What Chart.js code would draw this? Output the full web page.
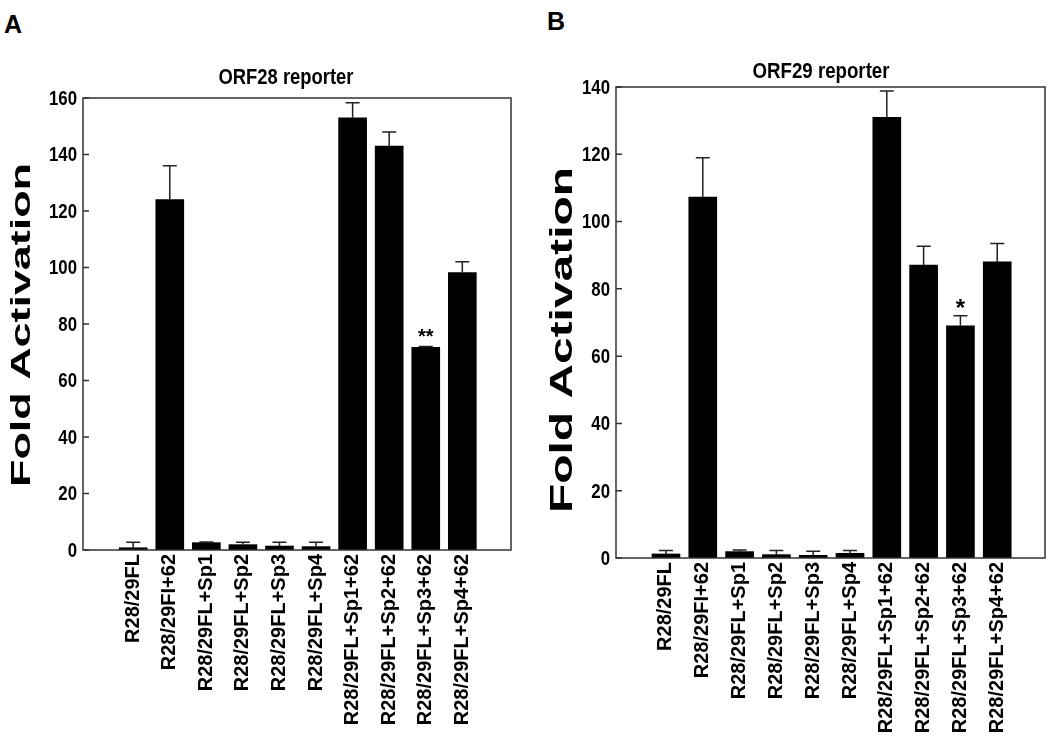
<!DOCTYPE html>
<html>
<head>
<meta charset="utf-8">
<script src="https://cdn.jsdelivr.net/npm/chart.js@4"></script>
<style>
    html, body { margin: 0; padding: 0; background: #fff; }
    body { width: 1050px; height: 738px; position: relative; overflow: hidden; font-family: 'Liberation Sans', Arial, sans-serif; }
    .panel { position: absolute; top: 0; width: 525px; height: 738px; }
    .tag { position: absolute; font-weight: bold; font-size: 25px; line-height: 1; color: #000; }
</style>
</head>
<body>
<div class="tag" style="left:4px; top:12px;">A</div>
<div class="tag" style="left:547px; top:9px;">B</div>
<div class="panel" style="left:0;"><canvas id="chartA" width="525" height="738"></canvas></div>
<div class="panel" style="left:525px;"><canvas id="chartB" width="525" height="738"></canvas></div>

<script>
// Kategoriler (iki panelde ayni)
const categories = [
    'R28/29FL', 'R28/29FI+62', 'R28/29FL+Sp1', 'R28/29FL+Sp2', 'R28/29FL+Sp3',
    'R28/29FL+Sp4', 'R28/29FL+Sp1+62', 'R28/29FL+Sp2+62', 'R28/29FL+Sp3+62', 'R28/29FL+Sp4+62'
];

// Panel A - ORF28 reporter
const orf28Values = [0.8, 124, 2.6, 1.9, 1.4, 1.2, 153, 143, 71.7, 98.2];
const orf28Errors = [1.9, 12, 0.2, 0.8, 1.3, 1.5, 5.3, 5, 0.3, 3.8];
const orf28Marks = ['', '', '', '', '', '', '', '', '**', ''];
const orf28Ticks = [0, 20, 40, 60, 80, 100, 120, 140, 160];

// Panel B - ORF29 reporter
const orf29Values = [1.2, 107.3, 1.9, 1.0, 0.8, 1.4, 131, 87.1, 69, 88];
const orf29Errors = [1.0, 11.7, 0.5, 1.2, 1.2, 0.8, 7.8, 5.6, 3, 5.5];
const orf29Marks = ['', '', '', '', '', '', '', '', '*', ''];
const orf29Ticks = [0, 20, 40, 60, 80, 100, 120, 140];

const plainFont = "'Liberation Sans', Arial, sans-serif";

// Dar (narrow) gorunumlu yazi: yatayda sikistirarak ciz
function narrowText(ctx, text, x, y, sx, align) {
    ctx.save();
    ctx.translate(x, y);
    ctx.scale(sx, 1);
    ctx.textAlign = align;
    ctx.fillText(text, 0, 0);
    ctx.restore();
}

// Hata cubuklari, cerceve, basliklar
const panelDecor = {
    id: 'panelDecor',
    afterDatasetsDraw(chart, args, opts) {
        const ctx = chart.ctx;
        const a = chart.chartArea;
        const y = chart.scales.y;
        const meta = chart.getDatasetMeta(0);
        const data = chart.data.datasets[0].data;
        ctx.save();

        // error bars
        ctx.strokeStyle = '#222';
        ctx.lineWidth = 1.5;
        ctx.fillStyle = '#000';
        meta.data.forEach((bar, i) => {
            const top = y.getPixelForValue(data[i].y + opts.errors[i]);
            ctx.beginPath();
            ctx.moveTo(bar.x, bar.y);
            ctx.lineTo(bar.x, top);
            ctx.moveTo(bar.x - 7, top);
            ctx.lineTo(bar.x + 7, top);
            ctx.stroke();
            if (opts.marks[i]) {
                ctx.font = `bold ${opts.markSize}px ${plainFont}`;
                ctx.textAlign = 'center';
                ctx.textBaseline = 'alphabetic';
                ctx.fillText(opts.marks[i], bar.x, top + opts.markShift);
            }
        });

        // frame
        ctx.strokeStyle = '#333';
        ctx.lineWidth = 1.5;
        ctx.strokeRect(a.left, a.top, a.right - a.left, a.bottom - a.top);

        // inward y ticks + narrow tick labels
        ctx.beginPath();
        y.ticks.forEach(t => {
            const py = y.getPixelForValue(t.value);
            ctx.moveTo(a.left, py);
            ctx.lineTo(a.left + 6, py);
        });
        ctx.stroke();
        ctx.fillStyle = '#000';
        ctx.font = `bold 21px ${plainFont}`;
        ctx.textBaseline = 'middle';
        y.ticks.forEach(t => {
            narrowText(ctx, String(t.value), a.left - 6, y.getPixelForValue(t.value) + 1, 0.8, 'right');
        });

        // panel title
        ctx.font = `bold 22px ${plainFont}`;
        const tw = ctx.measureText(opts.title).width;
        narrowText(ctx, opts.title, opts.titleX, opts.titleY, opts.titleWidth / tw, 'center');

        // y axis title
        ctx.translate(opts.yTitleX, opts.yTitleY);
        ctx.rotate(-Math.PI / 2);
        ctx.font = `bold ${opts.yTitleSize}px ${plainFont}`;
        const w = ctx.measureText('Fold Activation').width;
        ctx.scale(opts.yTitleLength / w, 1);
        ctx.textAlign = 'center';
        ctx.fillText('Fold Activation', 0, 0);

        ctx.restore();
    }
};

function makePanel(id, values, errors, marks, yTicks, cfg) {
    const ctx = document.getElementById(id);
    return new Chart(ctx, {
        type: 'bar',
        data: {
            datasets: [{
                data: values.map((v, i) => ({ x: i, y: v })),
                backgroundColor: '#000',
                borderWidth: 0,
                barThickness: 28
            }]
        },
        options: {
            responsive: false,
            animation: false,
            layout: { padding: { left: 0, right: cfg.padRight, top: cfg.padTop, bottom: 0 } },
            plugins: {
                legend: { display: false },
                tooltip: { enabled: false },
                panelDecor: {
                    errors: errors,
                    marks: marks,
                    markSize: cfg.markSize,
                    markShift: cfg.markShift,
                    title: cfg.title,
                    titleX: cfg.titleX,
                    titleY: cfg.titleY,
                    titleWidth: cfg.titleWidth,
                    yTitleX: cfg.yTitleX,
                    yTitleY: cfg.yTitleY,
                    yTitleSize: cfg.yTitleSize,
                    yTitleLength: cfg.yTitleLength
                }
            },
            scales: {
                x: {
                    type: 'linear',
                    min: cfg.xMin,
                    max: cfg.xMax,
                    grid: { display: false, drawTicks: false },
                    border: { display: false },
                    afterFit: s => { s.height = 738 - cfg.bottom; },
                    afterBuildTicks: s => { s.ticks = categories.map((c, i) => ({ value: i })); },
                    ticks: {
                        autoSkip: false,
                        minRotation: 90,
                        maxRotation: 90,
                        padding: 4,
                        color: '#000',
                        font: { family: plainFont, size: 20, weight: 'bold' },
                        callback: v => categories[v]
                    }
                },
                y: {
                    min: yTicks[0],
                    max: yTicks[yTicks.length - 1],
                    grid: { display: false, drawTicks: false },
                    border: { display: false },
                    afterFit: s => { s.width = cfg.left; },
                    afterBuildTicks: s => { s.ticks = yTicks.map(v => ({ value: v })); },
                    ticks: { display: false }
                }
            }
        },
        plugins: [panelDecor]
    });
}

makePanel('chartA', orf28Values, orf28Errors, orf28Marks, orf28Ticks, {
    left: 83, padRight: 14, padTop: 98, bottom: 550,
    xMin: -0.788, xMax: 9.746,
    title: 'ORF28 reporter', titleX: 286, titleY: 78, titleWidth: 135,
    yTitleX: 22, yTitleY: 325, yTitleSize: 28, yTitleLength: 324,
    markSize: 20, markShift: -4
});

makePanel('chartB', orf29Values, orf29Errors, orf29Marks, orf29Ticks, {
    left: 91, padRight: 5, padTop: 87, bottom: 558,
    xMin: -0.775, xMax: 9.715,
    title: 'ORF29 reporter', titleX: 296, titleY: 72, titleWidth: 137,
    yTitleX: 38, yTitleY: 340, yTitleSize: 31, yTitleLength: 346,
    markSize: 24, markShift: 0
});
</script>
</body>
</html>
